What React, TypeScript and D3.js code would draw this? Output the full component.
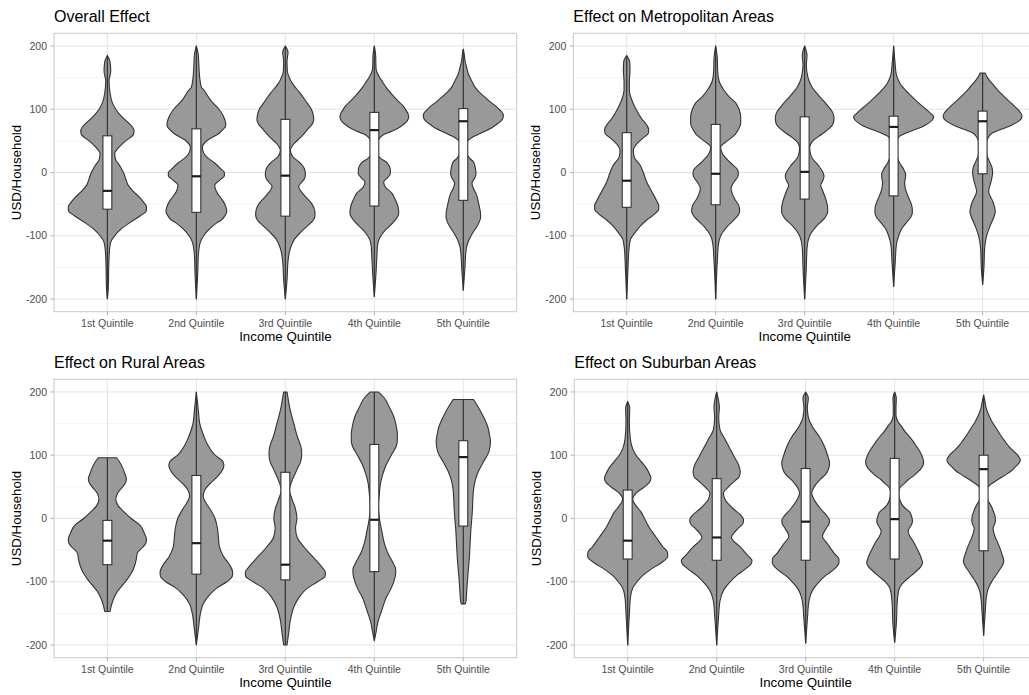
import React from "react";
import * as d3 from "d3";

// Income quintile categories shared by every panel
const quintiles = ["1st Quintile", "2nd Quintile", "3rd Quintile", "4th Quintile", "5th Quintile"];
const yMajorTicks = [-200, -100, 0, 100, 200];
const yMinorTicks = [-150, -50, 50, 150];

// Each violin: [USD/Household value, relative density] from top to bottom of its range
type Profile = [number, number][];
// Boxes: [lower quartile, median, upper quartile]
type Box = [number, number, number];

const overallViolins: Profile[] = [
  [[185, 0], [175, 8], [160, 10], [145, 5], [125, 8], [110, 15], [100, 25], [90, 40], [80, 60], [72, 75], [66, 80], [60, 78], [55, 68], [50, 55], [40, 35], [30, 22], [20, 25], [10, 38], [0, 48], [-10, 55], [-20, 62], [-30, 78], [-40, 98], [-48, 110], [-54, 117], [-60, 117], [-68, 100], [-80, 65], [-90, 40], [-100, 22], [-110, 10], [-125, 6], [-150, 4], [-180, 3], [-200, 0]],
  [[200, 0], [185, 6], [175, 7], [150, 10], [135, 15], [130, 23], [114, 43], [100, 68], [90, 80], [80, 87], [74, 88], [68, 80], [62, 68], [51, 33], [40, 18], [33, 20], [25, 30], [15, 55], [5, 75], [0, 84], [-5, 84], [-12, 70], [-20, 55], [-30, 60], [-45, 80], [-55, 89], [-62, 91], [-68, 86], [-75, 75], [-80, 60], [-90, 38], [-100, 22], [-110, 12], [-130, 6], [-160, 4], [-200, 0]],
  [[200, 0], [190, 8], [175, 5], [160, 6], [150, 12], [140, 22], [125, 45], [110, 65], [100, 78], [90, 84], [83, 85], [76, 80], [70, 70], [55, 45], [45, 25], [35, 15], [25, 22], [15, 45], [5, 58], [-3, 60], [-10, 57], [-15, 50], [-22, 40], [-35, 55], [-50, 80], [-60, 88], [-67, 89], [-75, 84], [-85, 65], [-95, 45], [-105, 28], [-120, 15], [-140, 8], [-170, 5], [-200, 0]],
  [[200, 0], [185, 4], [165, 5], [158, 8], [151, 15], [143, 25], [135, 35], [127, 47], [119, 60], [112, 73], [106, 85], [100, 93], [94, 100], [88, 103], [82, 99], [77, 90], [72, 77], [67, 60], [63, 42], [59, 25], [53, 14], [45, 10], [30, 10], [22, 20], [17, 35], [10, 45], [4, 48], [-2, 48], [-8, 40], [-15, 28], [-22, 32], [-33, 53], [-42, 62], [-49, 68], [-57, 72], [-65, 73], [-72, 67], [-78, 58], [-85, 45], [-91, 33], [-100, 20], [-107, 13], [-118, 9], [-128, 8], [-159, 5], [-196, 0]],
  [[195, 0], [186, 3], [177, 5], [166, 10], [156, 15], [146, 24], [135, 35], [127, 48], [119, 65], [112, 80], [106, 95], [100, 107], [96, 115], [90, 120], [85, 118], [80, 110], [75, 97], [69, 80], [64, 60], [59, 40], [55, 25], [51, 15], [45, 10], [30, 11], [22, 20], [17, 30], [10, 35], [4, 37], [-2, 38], [-8, 35], [-17, 26], [-25, 30], [-33, 38], [-44, 44], [-54, 48], [-62, 51], [-70, 52], [-78, 48], [-86, 40], [-94, 30], [-101, 22], [-109, 15], [-117, 10], [-130, 7], [-149, 5], [-186, 0]],
];
const overallBoxes: Box[] = [[-58, -29, 58], [-63, -6, 69], [-69, -5, 84], [-53, 67, 95], [-44, 81, 101]];

const metroViolins: Profile[] = [
  [[185, 0], [175, 9], [160, 10], [145, 8], [130, 8], [115, 15], [100, 28], [85, 45], [75, 60], [68, 66], [62, 65], [55, 50], [45, 30], [35, 20], [25, 22], [12, 40], [0, 50], [-15, 60], [-30, 75], [-45, 90], [-52, 96], [-58, 96], [-65, 85], [-75, 60], [-85, 40], [-95, 25], [-105, 12], [-120, 7], [-150, 4], [-200, 0]],
  [[200, 0], [180, 5], [160, 6], [145, 10], [130, 25], [120, 40], [110, 60], [100, 70], [88, 75], [78, 75], [68, 68], [60, 58], [50, 35], [40, 15], [30, 20], [15, 45], [5, 65], [-1, 68], [-7, 66], [-15, 55], [-25, 46], [-40, 55], [-52, 69], [-60, 72], [-66, 69], [-75, 55], [-85, 35], [-100, 15], [-115, 8], [-140, 5], [-200, 0]],
  [[200, 0], [185, 7], [170, 5], [150, 10], [135, 22], [120, 45], [105, 70], [95, 84], [86, 88], [78, 86], [70, 75], [60, 50], [50, 25], [40, 15], [25, 20], [12, 40], [0, 55], [-6, 58], [-12, 55], [-20, 48], [-30, 55], [-45, 65], [-56, 69], [-63, 69], [-72, 60], [-85, 35], [-100, 15], [-120, 7], [-150, 5], [-200, 0]],
  [[200, 0], [175, 4], [155, 8], [145, 15], [140, 20], [132, 32], [125, 45], [117, 60], [110, 75], [104, 88], [100, 97], [94, 110], [88, 120], [83, 116], [78, 105], [74, 92], [70, 75], [67, 60], [64, 45], [60, 28], [56, 15], [48, 10], [38, 10], [28, 10], [15, 18], [5, 30], [-3, 36], [-10, 35], [-15, 33], [-25, 35], [-40, 45], [-50, 53], [-58, 56], [-64, 56], [-72, 50], [-80, 37], [-88, 25], [-100, 15], [-115, 8], [-140, 5], [-180, 0]],
  [[157, 8], [152, 12], [146, 20], [140, 30], [132, 42], [125, 55], [117, 70], [110, 85], [104, 97], [100, 105], [95, 113], [90, 118], [85, 116], [80, 105], [75, 88], [70, 65], [66, 45], [62, 28], [56, 18], [48, 12], [40, 12], [30, 12], [18, 20], [8, 28], [0, 30], [-8, 28], [-15, 25], [-30, 18], [-45, 30], [-55, 36], [-62, 38], [-70, 34], [-85, 22], [-100, 12], [-120, 6], [-150, 4], [-177, 0]],
];
const metroBoxes: Box[] = [[-55, -13, 63], [-51, -2, 76], [-42, 1, 88], [-37, 72, 89], [-2, 81, 97]];

const ruralViolins: Profile[] = [
  [[96, 27], [90, 35], [80, 45], [70, 52], [63, 56], [57, 54], [50, 45], [40, 30], [30, 25], [20, 32], [10, 50], [0, 70], [-10, 95], [-25, 110], [-32, 115], [-38, 114], [-45, 105], [-55, 88], [-65, 85], [-75, 80], [-85, 72], [-95, 60], [-105, 45], [-115, 30], [-125, 20], [-137, 12], [-147, 8]],
  [[200, 0], [170, 6], [150, 10], [130, 22], [115, 35], [100, 55], [90, 78], [83, 81], [76, 76], [65, 60], [55, 40], [45, 25], [35, 20], [25, 28], [15, 40], [0, 55], [-15, 62], [-30, 65], [-45, 68], [-60, 80], [-75, 100], [-85, 107], [-91, 106], [-100, 90], [-110, 60], [-120, 40], [-135, 20], [-150, 12], [-170, 7], [-200, 0]],
  [[200, 5], [190, 8], [170, 15], [150, 25], [130, 35], [115, 45], [107, 48], [100, 48], [90, 45], [78, 35], [60, 20], [45, 12], [30, 20], [15, 30], [0, 34], [-15, 30], [-30, 35], [-45, 55], [-60, 80], [-75, 105], [-85, 118], [-91, 117], [-100, 95], [-110, 65], [-125, 40], [-140, 25], [-160, 15], [-180, 10], [-200, 5]],
  [[200, 12], [190, 30], [175, 45], [160, 58], [145, 65], [133, 68], [125, 68], [115, 65], [100, 50], [85, 35], [70, 25], [55, 18], [40, 15], [20, 12], [0, 15], [-20, 22], [-40, 30], [-55, 40], [-70, 55], [-80, 63], [-86, 63], [-95, 60], [-110, 50], [-125, 35], [-145, 22], [-165, 10], [-180, 5], [-193, 0]],
  [[188, 30], [175, 45], [160, 60], [145, 72], [130, 78], [122, 80], [115, 79], [105, 75], [90, 60], [75, 45], [60, 35], [45, 30], [30, 28], [15, 27], [0, 25], [-20, 22], [-40, 20], [-60, 18], [-80, 15], [-100, 12], [-115, 10], [-130, 8], [-135, 6]],
];
const ruralBoxes: Box[] = [[-73, -35, -3], [-88, -39, 68], [-97, -73, 73], [-84, -2, 117], [-12, 97, 123]];

const suburbanViolins: Profile[] = [
  [[185, 0], [175, 6], [150, 5], [125, 8], [110, 15], [100, 25], [90, 40], [80, 55], [70, 65], [64, 69], [58, 66], [50, 50], [40, 25], [30, 15], [20, 25], [10, 40], [0, 50], [-15, 65], [-30, 85], [-45, 105], [-53, 118], [-60, 119], [-70, 100], [-80, 70], [-90, 45], [-100, 28], [-110, 15], [-125, 8], [-150, 5], [-200, 0]],
  [[200, 0], [175, 8], [160, 6], [140, 10], [125, 25], [110, 40], [95, 55], [85, 65], [74, 70], [66, 67], [60, 55], [50, 35], [40, 20], [30, 25], [15, 50], [5, 72], [-2, 80], [-8, 78], [-15, 65], [-30, 44], [-45, 70], [-60, 95], [-66, 105], [-71, 103], [-80, 85], [-90, 60], [-100, 40], [-112, 22], [-130, 10], [-160, 5], [-200, 0]],
  [[200, 0], [190, 8], [175, 5], [160, 8], [145, 20], [130, 40], [115, 55], [100, 65], [88, 71], [80, 69], [70, 60], [60, 40], [50, 25], [40, 18], [30, 25], [15, 45], [5, 62], [-3, 71], [-9, 69], [-15, 62], [-28, 50], [-40, 65], [-55, 85], [-64, 99], [-70, 99], [-80, 85], [-90, 60], [-100, 40], [-112, 22], [-130, 10], [-160, 5], [-197, 0]],
  [[200, 0], [190, 5], [175, 4], [164, 4], [158, 6], [153, 10], [146, 20], [138, 30], [130, 43], [122, 55], [114, 65], [106, 75], [98, 82], [90, 86], [85, 85], [80, 80], [74, 70], [67, 55], [62, 42], [56, 30], [48, 15], [40, 12], [30, 15], [22, 22], [17, 30], [10, 45], [4, 50], [-4, 53], [-10, 50], [-15, 44], [-20, 40], [-28, 45], [-36, 55], [-47, 66], [-57, 75], [-64, 80], [-70, 83], [-76, 78], [-83, 65], [-91, 48], [-99, 30], [-109, 15], [-120, 10], [-130, 8], [-167, 5], [-196, 0]],
  [[195, 0], [185, 4], [174, 8], [164, 15], [153, 25], [143, 37], [132, 50], [123, 62], [114, 75], [107, 88], [101, 100], [97, 105], [93, 109], [88, 106], [82, 95], [75, 82], [69, 65], [64, 50], [59, 35], [51, 15], [44, 10], [30, 12], [22, 20], [17, 25], [10, 30], [4, 34], [-4, 35], [-10, 32], [-15, 28], [-22, 30], [-30, 35], [-36, 40], [-46, 48], [-57, 55], [-62, 58], [-67, 60], [-73, 57], [-83, 45], [-91, 35], [-99, 25], [-107, 17], [-114, 12], [-125, 8], [-146, 5], [-185, 0]],
];
const suburbanBoxes: Box[] = [[-64, -35, 45], [-66, -30, 63], [-66, -5, 79], [-64, -1, 95], [-51, 78, 100]];

// Panel placement on the 1029 x 695 canvas
const PANEL_W = 462.7;
const PANEL_H = 278.4;
const panels = [
  { title: "Overall Effect", violins: overallViolins, boxes: overallBoxes, left: 54, top: 33.3 },
  { title: "Effect on Metropolitan Areas", violins: metroViolins, boxes: metroBoxes, left: 573.3, top: 33.3 },
  { title: "Effect on Rural Areas", violins: ruralViolins, boxes: ruralBoxes, left: 54, top: 379.3 },
  { title: "Effect on Suburban Areas", violins: suburbanViolins, boxes: suburbanBoxes, left: 574.3, top: 379.3 },
];

const FONT = "'Liberation Sans', Arial, Helvetica, sans-serif";
const INK = "#333333";

function Panel({ title, violins, boxes, left, top }: (typeof panels)[number]) {
  const right = left + PANEL_W;
  const bottom = top + PANEL_H;
  const x = d3.scalePoint<string>().domain(quintiles).range([left, right]).padding(0.6);
  const y = d3.scaleLinear().domain([-220, 220]).range([bottom, top]);
  const step = x.step();
  const maxDensity = d3.max(violins.flat(), (d) => d[1]) ?? 1;
  const halfWidth = d3.scaleLinear().domain([0, maxDensity]).range([0, step * 0.45]);
  const boxHalf = step * 0.05;

  return (
    <g>
      {/* grid */}
      {yMinorTicks.map((t) => (
        <line key={"mi" + t} x1={left} x2={right} y1={y(t)} y2={y(t)} stroke="#f0f0f0" strokeWidth={0.8} />
      ))}
      {yMajorTicks.map((t) => (
        <line key={"ma" + t} x1={left} x2={right} y1={y(t)} y2={y(t)} stroke="#e4e4e4" strokeWidth={1} />
      ))}
      {quintiles.map((q) => (
        <line key={"gx" + q} x1={x(q)} x2={x(q)} y1={top} y2={bottom} stroke="#e4e4e4" strokeWidth={1} />
      ))}

      {/* violins with narrow boxplots */}
      {violins.map((prof, i) => {
        const cx = x(quintiles[i]) as number;
        const area = d3
          .area<[number, number]>()
          .y((d) => y(d[0]))
          .x0((d) => cx - halfWidth(d[1]))
          .x1((d) => cx + halfWidth(d[1]))
          .curve(d3.curveMonotoneY);
        const [q1, med, q3] = boxes[i];
        const vMax = prof[0][0];
        const vMin = prof[prof.length - 1][0];
        return (
          <g key={"v" + i}>
            <path d={area(prof) ?? ""} fill="#999999" stroke={INK} strokeWidth={1.1} strokeLinejoin="round" />
            <line x1={cx} x2={cx} y1={y(vMax)} y2={y(vMin)} stroke={INK} strokeWidth={1.2} />
            <rect x={cx - boxHalf} y={y(q3)} width={boxHalf * 2} height={y(q1) - y(q3)} fill="#ffffff" stroke={INK} strokeWidth={1.1} />
            <line x1={cx - boxHalf} x2={cx + boxHalf} y1={y(med)} y2={y(med)} stroke="#1a1a1a" strokeWidth={2.2} />
          </g>
        );
      })}

      {/* panel border */}
      <rect x={left} y={top} width={PANEL_W} height={PANEL_H} fill="none" stroke="#c8c8c8" strokeWidth={1} />

      {/* y axis */}
      {yMajorTicks.map((t) => (
        <g key={"yt" + t}>
          <line x1={left - 3.5} x2={left} y1={y(t)} y2={y(t)} stroke="#b3b3b3" strokeWidth={1} />
          <text x={left - 7} y={y(t)} dy="0.35em" textAnchor="end" fontSize={10.5} fill="#4d4d4d" fontFamily={FONT}>
            {t}
          </text>
        </g>
      ))}
      {/* x axis */}
      {quintiles.map((q) => (
        <g key={"xt" + q}>
          <line x1={x(q)} x2={x(q)} y1={bottom} y2={bottom + 3.5} stroke="#b3b3b3" strokeWidth={1} />
          <text x={x(q)} y={bottom + 15.3} textAnchor="middle" fontSize={10.5} fill="#4d4d4d" fontFamily={FONT}>
            {q}
          </text>
        </g>
      ))}

      <text x={(left + right) / 2} y={bottom + 29.6} textAnchor="middle" fontSize={13.3} fill="#000" fontFamily={FONT}>
        Income Quintile
      </text>
      <text
        transform={`translate(${left - 33},${(top + bottom) / 2}) rotate(-90)`}
        textAnchor="middle"
        fontSize={13.3}
        fill="#000"
        fontFamily={FONT}
      >
        USD/Household
      </text>
      <text x={left} y={top - 11.5} fontSize={16} fill="#000" fontFamily={FONT}>
        {title}
      </text>
    </g>
  );
}

export default function App() {
  return (
    <svg
      width={1029}
      height={695}
      viewBox="0 0 1029 695"
      style={{ position: "absolute", left: 0, top: 0, background: "#ffffff" }}
    >
      <rect width={1029} height={695} fill="#ffffff" />
      {panels.map((p) => (
        <Panel key={p.title} {...p} />
      ))}
    </svg>
  );
}
